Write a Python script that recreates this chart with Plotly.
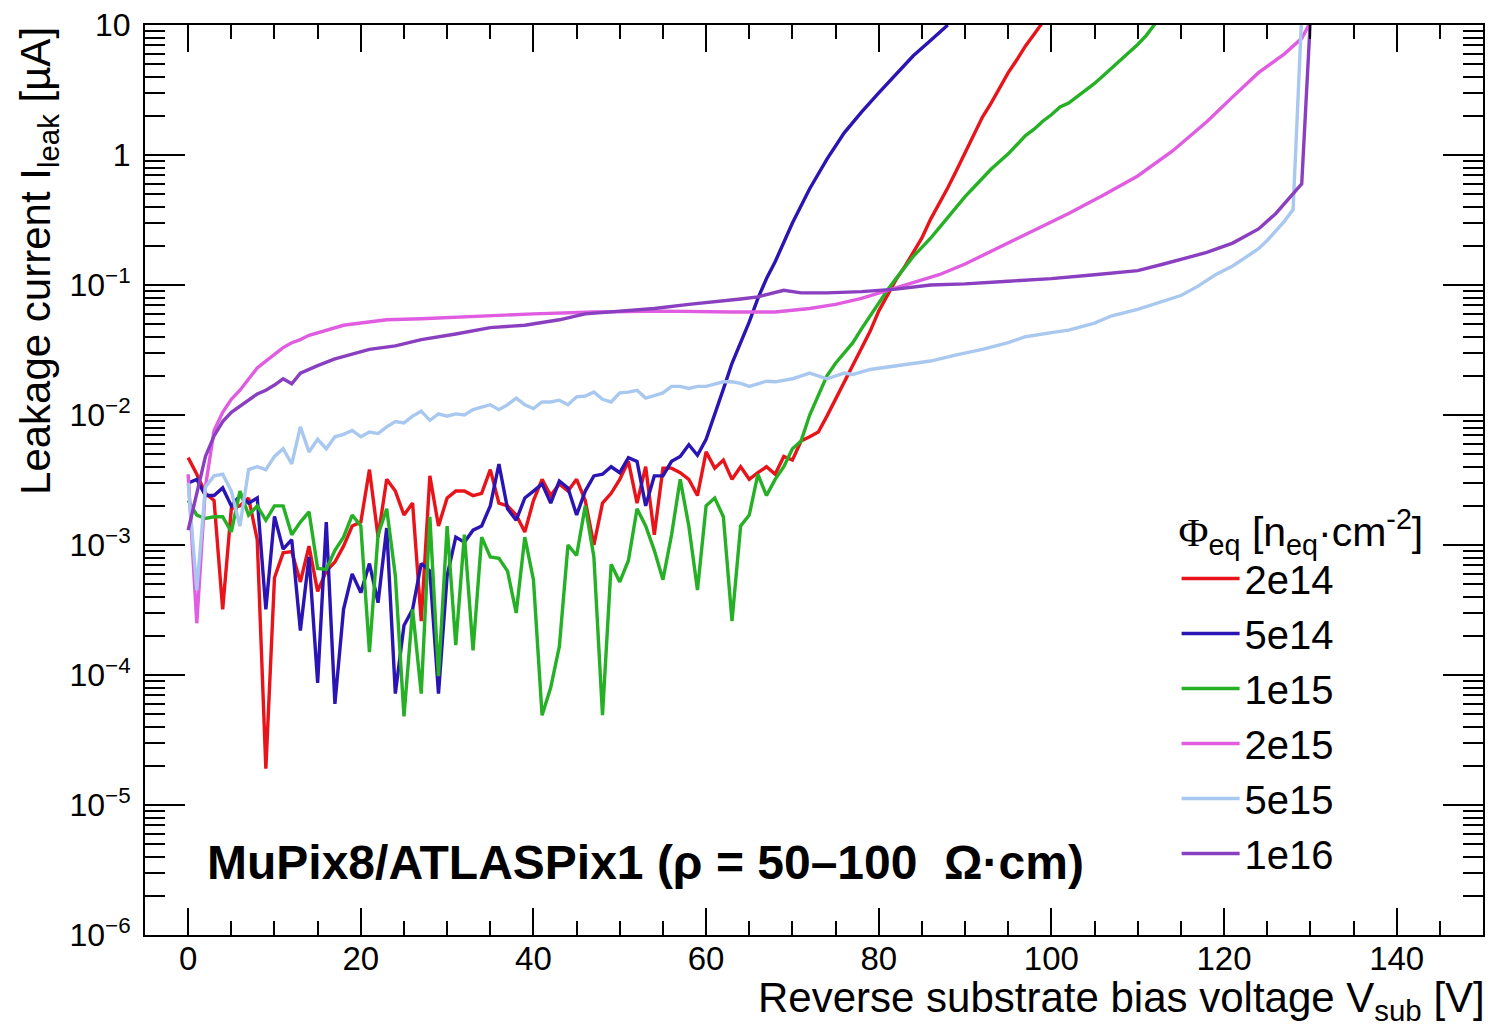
import plotly.graph_objects as go

# ---------------- data (current in uA, voltage in V) ----------------
v_2e14 = list(range(0, 100))
i_2e14 = [4.7e-3, 3.5e-3, 2.5e-3, 2.2e-3, 3.2e-4, 1.9e-3, 2.0e-3, 2.3e-3, 1.1e-3, 1.9e-5,
          5.6e-4, 8.7e-4, 8.9e-4, 5.2e-4, 9.8e-4, 4.4e-4, 6.3e-4, 7.4e-4, 9.8e-4, 1.4e-3,
          1.5e-3, 3.8e-3, 1.15e-3, 3.2e-3, 2.6e-3, 1.7e-3, 2.1e-3, 2.6e-4, 3.4e-3, 1.4e-3,
          2.3e-3, 2.6e-3, 2.6e-3, 2.4e-3, 2.5e-3, 3.8e-3, 2.1e-3, 2.0e-3, 1.7e-3, 1.26e-3,
          2.2e-3, 3.2e-3, 2.4e-3, 2.95e-3, 2.6e-3, 3.2e-3, 2.2e-3, 1.0e-3, 2.1e-3, 2.5e-3,
          3.2e-3, 4.4e-3, 2.1e-3, 4.0e-3, 1.2e-3, 3.9e-3, 3.9e-3, 3.6e-3, 3.2e-3, 2.4e-3,
          5.2e-3, 3.9e-3, 4.5e-3, 3.2e-3, 4.0e-3, 3.2e-3, 3.6e-3, 4.0e-3, 3.5e-3, 4.8e-3,
          4.5e-3, 6.3e-3, 6.8e-3, 7.4e-3, 9.8e-3, 1.32e-2, 1.78e-2, 2.4e-2, 3.2e-2, 4.4e-2,
          6.3e-2, 8.3e-2, 0.11, 0.138, 0.178, 0.23, 0.32, 0.42, 0.56, 0.76,
          1.05, 1.45, 1.95, 2.5, 3.3, 4.3, 5.4, 6.9, 8.5, 10.5]

v_5e14 = list(range(0, 61)) + [61, 62, 63, 64, 65, 66, 67, 68, 69, 70, 72, 74, 76, 78, 80, 82, 84, 86, 88]
i_5e14 = [3.0e-3, 3.2e-3, 2.4e-3, 2.4e-3, 2.75e-3, 2.0e-3, 2.4e-3, 2.1e-3, 2.3e-3, 3.2e-4,
          1.66e-3, 9.3e-4, 1.1e-3, 2.2e-4, 8.1e-4, 8.7e-5, 1.5e-3, 6.0e-5, 3.2e-4, 6.0e-4,
          4.3e-4, 7.2e-4, 3.6e-4, 1.35e-3, 7.2e-5, 2.4e-4, 3.2e-4, 7.2e-4, 6.3e-4, 7.2e-5,
          5.8e-4, 1.15e-3, 1.05e-3, 1.3e-3, 1.4e-3, 2.0e-3, 4.2e-3, 1.9e-3, 1.55e-3, 2.3e-3,
          2.6e-3, 2.95e-3, 2.1e-3, 3.1e-3, 2.75e-3, 1.7e-3, 2.6e-3, 3.4e-3, 3.5e-3, 4.0e-3,
          3.6e-3, 4.7e-3, 4.4e-3, 2.0e-3, 3.4e-3, 3.4e-3, 4.4e-3, 4.8e-3, 5.9e-3, 4.9e-3,
          6.5e-3,
          1.0e-2, 1.58e-2, 2.5e-2, 3.55e-2, 5.2e-2, 7.9e-2, 0.112, 0.151, 0.214, 0.30,
          0.55, 0.93, 1.48, 2.14, 3.0, 4.2, 5.8, 7.6, 10.0]

v_1e15 = list(range(0, 113))
i_1e15 = [2.2e-3, 1.7e-3, 1.6e-3, 1.65e-3, 1.65e-3, 1.26e-3, 2.6e-3, 1.7e-3, 2.0e-3, 1.55e-3,
          2.0e-3, 2.0e-3, 1.2e-3, 1.5e-3, 1.8e-3, 6.6e-4, 6.5e-4, 9.1e-4, 1.15e-3, 1.7e-3,
          1.4e-3, 1.5e-4, 1.2e-3, 1.9e-3, 5.8e-4, 4.8e-5, 3.2e-4, 7.2e-5, 1.65e-3, 9.8e-5,
          1.4e-3, 1.7e-4, 1.2e-3, 1.55e-4, 1.15e-3, 8.1e-4, 7.9e-4, 6.3e-4, 3.0e-4, 1.15e-3,
          5.4e-4, 4.9e-5, 8.0e-5, 1.66e-4, 1.0e-3, 8.3e-4, 2.0e-3, 8.1e-4, 4.9e-5, 7.1e-4,
          5.2e-4, 7.6e-4, 1.9e-3, 1.4e-3, 9.1e-4, 5.4e-4, 1.2e-3, 3.2e-3, 1.4e-3, 4.5e-4,
          2.0e-3, 2.3e-3, 1.65e-3, 2.6e-4, 1.4e-3, 1.7e-3, 3.5e-3, 2.4e-3, 3.2e-3, 4.0e-3,
          5.5e-3, 6.3e-3, 1.0e-2, 1.4e-2, 2.0e-2, 2.5e-2, 3.0e-2, 3.6e-2, 4.6e-2, 5.8e-2,
          7.4e-2, 9.1e-2, 0.112, 0.138, 0.166, 0.195, 0.229, 0.275, 0.331, 0.398,
          0.479, 0.562, 0.661, 0.776, 0.891, 1.02, 1.2, 1.41, 1.58, 1.82,
          2.04, 2.34, 2.51, 2.82, 3.16, 3.55, 4.07, 4.68, 5.37, 6.17,
          7.08, 8.32, 10.2]

v_2e15 = [0, 1, 2, 3, 4, 5, 6, 7, 8, 9, 10, 11, 12, 13, 14, 16, 18, 20, 23, 27, 33, 40, 47, 55,
          63, 68, 72, 75, 78, 81, 84, 87, 90, 94, 98, 102, 106, 110, 114, 118, 121, 124, 127,
          129, 130]
i_2e15 = [3.5e-3, 2.5e-4, 2.8e-3, 7.6e-3, 1.05e-2, 1.32e-2, 1.55e-2, 1.9e-2, 2.3e-2, 2.6e-2,
          2.95e-2, 3.3e-2, 3.6e-2, 3.8e-2, 4.1e-2, 4.5e-2, 4.9e-2, 5.1e-2, 5.4e-2, 5.5e-2,
          5.75e-2, 6.0e-2, 6.2e-2, 6.3e-2, 6.2e-2, 6.2e-2, 6.6e-2, 7.1e-2, 7.9e-2, 9.1e-2,
          0.105, 0.12, 0.145, 0.195, 0.26, 0.355, 0.49, 0.69, 1.07, 1.8,
          2.8, 4.3, 6.0, 7.9, 10.5]

v_5e15 = list(range(0, 71)) + [72, 74, 76, 77, 79, 82, 86, 89, 92, 95, 97, 100, 102, 105, 107,
                               110, 112, 115, 117, 119, 121, 123, 124, 125, 126, 127, 128, 129]
i_5e15 = [3.0e-3, 4.5e-4, 2.8e-3, 3.4e-3, 3.5e-3, 2.6e-3, 1.4e-3, 3.8e-3, 4.0e-3, 3.8e-3,
          4.8e-3, 5.5e-3, 4.2e-3, 8.1e-3, 5.2e-3, 6.5e-3, 5.5e-3, 6.8e-3, 7.1e-3, 7.6e-3,
          6.8e-3, 7.4e-3, 7.2e-3, 8.1e-3, 8.9e-3, 8.7e-3, 9.8e-3, 1.07e-2, 9.1e-3, 1.02e-2,
          9.8e-3, 1.02e-2, 1.0e-2, 1.1e-2, 1.15e-2, 1.2e-2, 1.1e-2, 1.2e-2, 1.35e-2, 1.2e-2,
          1.12e-2, 1.26e-2, 1.26e-2, 1.3e-2, 1.2e-2, 1.38e-2, 1.4e-2, 1.5e-2, 1.32e-2, 1.26e-2,
          1.48e-2, 1.5e-2, 1.55e-2, 1.35e-2, 1.41e-2, 1.48e-2, 1.66e-2, 1.66e-2, 1.6e-2, 1.66e-2,
          1.66e-2, 1.74e-2, 1.8e-2, 1.8e-2, 1.75e-2, 1.66e-2, 1.75e-2, 1.82e-2, 1.8e-2, 1.85e-2,
          1.9e-2,
          2.1e-2, 1.9e-2, 2.1e-2, 2.05e-2, 2.24e-2, 2.4e-2, 2.6e-2, 2.9e-2, 3.2e-2, 3.6e-2,
          4.0e-2, 4.3e-2, 4.5e-2, 5.1e-2, 5.8e-2, 6.5e-2, 7.2e-2, 8.3e-2, 9.8e-2, 0.12,
          0.14, 0.17, 0.19, 0.22, 0.26, 0.31, 0.38, 12.0]

v_1e16 = [0, 1, 2, 3, 4, 5, 6, 7, 8, 9, 10, 11, 12, 13, 14, 15, 17, 19, 21, 24, 27, 31, 35, 39,
          43, 46, 50, 54, 58, 61, 64, 66, 69, 71, 74, 78, 82, 86, 90, 95, 100, 105, 110, 113,
          115, 118, 121, 124, 126, 128, 129, 130]
i_1e16 = [1.3e-3, 2.5e-3, 4.8e-3, 6.9e-3, 8.9e-3, 1.05e-2, 1.17e-2, 1.32e-2, 1.45e-2, 1.55e-2,
          1.7e-2, 1.9e-2, 1.74e-2, 2.1e-2, 2.25e-2, 2.4e-2, 2.7e-2, 2.95e-2, 3.2e-2, 3.4e-2,
          3.8e-2, 4.2e-2, 4.7e-2, 4.9e-2, 5.4e-2, 6.0e-2, 6.3e-2, 6.6e-2, 7.1e-2, 7.4e-2,
          7.8e-2, 8.1e-2, 9.1e-2, 8.7e-2, 8.7e-2, 8.9e-2, 9.3e-2, 0.1, 0.102, 0.107,
          0.112, 0.12, 0.129, 0.145, 0.158, 0.178, 0.21, 0.27, 0.355, 0.5,
          0.6, 11.0]

series = [
    ("2e14", v_2e14, i_2e14, "#e8141a"),
    ("5e14", v_5e14, i_5e14, "#2a14b4"),
    ("1e15", v_1e15, i_1e15, "#25b025"),
    ("2e15", v_2e15, i_2e15, "#e05ce0"),
    ("5e15", v_5e15, i_5e15, "#a9c8ef"),
    ("1e16", v_1e16, i_1e16, "#8a3fc0"),
]

x_tickvals = [0, 20, 40, 60, 80, 100, 120, 140]
y_tickvals = [1e-6, 1e-5, 1e-4, 1e-3, 1e-2, 1e-1, 1, 10]
y_ticktext = ["10<sup>\u22126</sup>", "10<sup>\u22125</sup>", "10<sup>\u22124</sup>",
              "10<sup>\u22123</sup>", "10<sup>\u22122</sup>", "10<sup>\u22121</sup>", "1", "10"]

FONT = "Liberation Sans, Arial, Helvetica, sans-serif"

fig = go.Figure()
for name, xs, ys, col in series:
    fig.add_trace(go.Scatter(x=xs, y=ys, mode="lines", name=name,
                             line=dict(color=col, width=3.4),
                             legendgroup=name))

fig.update_layout(
    width=1488, height=1034,
    margin=dict(l=145, r=3, t=25, b=99),
    paper_bgcolor="white", plot_bgcolor="white",
    font=dict(family=FONT, color="black", size=32),
    showlegend=True,
    legend=dict(
        x=0.771, y=0.486, xanchor="left", yanchor="top",
        bgcolor="rgba(0,0,0,0)", borderwidth=0,
        font=dict(size=40, family=FONT, color="black"),
        itemwidth=58,
        title=dict(text='<span style="font-family:Liberation Serif">\u03a6</span><sub>eq</sub> [n<sub>eq</sub>\u00b7cm<sup>-2</sup>]',
                   font=dict(size=41, family=FONT), side="top"),
        tracegroupgap=0, traceorder="normal",
    ),
)

fig.update_xaxes(
    range=[-5, 150], showgrid=False, zeroline=False,
    showline=True, linecolor="black", linewidth=2, mirror="ticks",
    ticks="inside", ticklen=27, tickwidth=2, tickcolor="black",
    tickvals=x_tickvals, tickfont=dict(size=33, family=FONT),
    ticklabelstandoff=-7,
    minor=dict(ticks="inside", ticklen=14, tickwidth=2, tickcolor="black", dtick=5, tick0=0, showgrid=False),
)
fig.update_yaxes(
    type="log", range=[-6, 1], showgrid=False, zeroline=False,
    showline=True, linecolor="black", linewidth=2, mirror="ticks",
    ticks="inside", ticklen=40, tickwidth=2, tickcolor="black",
    tickvals=y_tickvals, ticktext=y_ticktext, tickfont=dict(size=32, family=FONT),
    ticklabelstandoff=6,
    minor=dict(ticks="inside", ticklen=20, tickwidth=2, tickcolor="black", dtick="D1", showgrid=False),
)

# axis titles (ROOT style: right / top aligned)
fig.add_annotation(text="Reverse substrate bias voltage V<sub>sub</sub> [V]",
                   xref="paper", yref="paper", x=1.003, y=-0.072, xanchor="right", yanchor="middle",
                   showarrow=False, font=dict(size=42, family=FONT))
fig.add_annotation(text="Leakage current I<sub>leak</sub> [\u00b5A]",
                   xref="paper", yref="paper", x=-0.08, y=1.0, xanchor="center", yanchor="top",
                   textangle=-90, showarrow=False, font=dict(size=42, family=FONT))
fig.add_annotation(text="<b>MuPix8/ATLASPix1 (\u03c1 = 50\u2013100  \u03a9\u00b7cm)</b>",
                   xref="paper", yref="paper", x=0.045, y=0.08, xanchor="left", yanchor="middle",
                   showarrow=False, font=dict(size=48, family=FONT))

fig.write_html("out.html", config={"displayModeBar": False},
               post_script="document.body.style.margin='0';")
